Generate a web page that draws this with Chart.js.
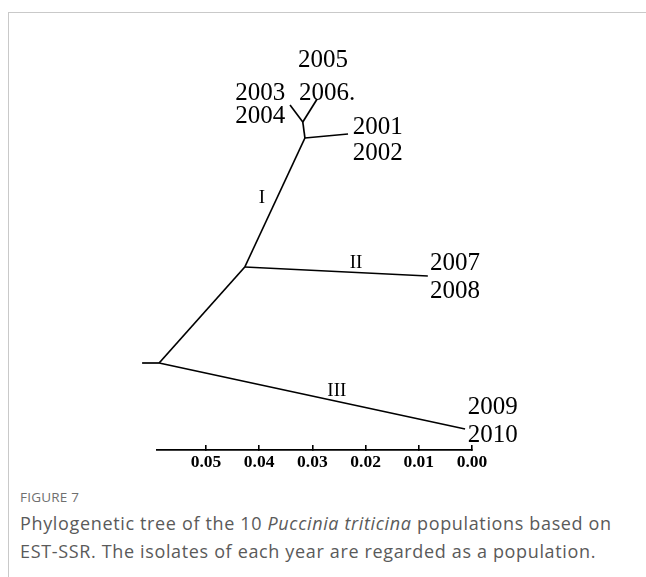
<!DOCTYPE html>
<html>
<head>
<meta charset="utf-8">
<script src="https://cdn.jsdelivr.net/npm/chart.js@4/dist/chart.umd.min.js"></script>
<style>
  html, body { margin: 0; padding: 0; background: #fff; }
  body { width: 646px; height: 577px; position: relative; overflow: hidden; }
  .frame { position: absolute; left: 8px; top: 12px; right: 0; bottom: 0;
           border-left: 1px solid #c9c9c9; border-top: 1px solid #c9c9c9; }
  .wrap { position: absolute; left: 0; top: 0; width: 646px; height: 480px; }
  .fig { position: absolute; left: 20px; top: 488px; font-family: "Open Sans", sans-serif;
         font-size: 13.5px; color: #6f6f6f; letter-spacing: 0.2px; }
  .cap { position: absolute; left: 20px; top: 509px; width: 608px; font-family: "Open Sans", sans-serif;
         font-size: 18px; line-height: 28px; letter-spacing: 0.65px; color: #5a5a5a; }
</style>
</head>
<body>
<div class="frame"></div>
<div class="wrap"><canvas id="c" width="646" height="480"></canvas></div>
<div class="fig">FIGURE 7</div>
<div class="cap">Phylogenetic tree of the 10 <i>Puccinia triticina</i> populations based on EST-SSR. The isolates of each year are regarded as a population.</div>
<script>
// Tree nodes: genetic distance (measured on the scale bar) and vertical layout position
const nodeNames = ['stub', 'root', 'splitI_II', 'splitI', 'split0306', 'tip0708', 'tip0910', 'tip0102', 'tip0304', 'tip0506'];
const nodeDist  = [0.0620, 0.0588, 0.0427, 0.0314, 0.0318, 0.0083, 0.0013, 0.0233, 0.0342, 0.0291];
const nodeY     = [0.87,   0.87,   1.83,   3.12,   3.28,   1.74,   0.21,   3.16,   3.45,   3.51];

// Branches as pairs of node indices
const branchFrom = [0, 1, 1, 2, 2, 3, 3, 4, 4];
const branchTo   = [1, 2, 6, 3, 5, 7, 4, 8, 9];

// Population labels (years) placed by distance and baseline position
const yearText = ['2005', '2003', '2006.', '2004', '2001', '2002', '2007', '2008', '2009', '2010'];
const yearDist = [0.0327, 0.0445, 0.0325, 0.0445, 0.0224, 0.0224, 0.0079, 0.0079, 0.0008, 0.0008];
const yearY    = [3.83,   3.50,   3.50,   3.27,   3.16,   2.90,   1.80,   1.52,   0.36,   0.08];

// Cluster labels
const clusterText = ['I', 'II', 'III'];
const clusterDist = [0.0395, 0.0218, 0.0254];
const clusterY    = [2.47,   1.82,   0.54];

// Scale bar ticks
const scaleMax = 0.0592;
const scaleStep = 0.01;

const datasets = branchFrom.map((f, i) => ({
  label: nodeNames[f] + '-' + nodeNames[branchTo[i]],
  data: [
    { x: nodeDist[f], y: nodeY[f] },
    { x: nodeDist[branchTo[i]], y: nodeY[branchTo[i]] }
  ],
  showLine: true,
  borderColor: '#000',
  borderWidth: 1.7,
  pointRadius: 0,
  pointHoverRadius: 0,
  clip: false
}));

const treeLabels = {
  id: 'treeLabels',
  afterDatasetsDraw(chart) {
    const { ctx, scales: { x, y } } = chart;
    ctx.save();
    ctx.fillStyle = '#000';
    ctx.textBaseline = 'alphabetic';
    ctx.textAlign = 'left';
    ctx.font = '25px "Liberation Serif", "Times New Roman", serif';
    yearText.forEach((t, i) => {
      ctx.fillText(t, x.getPixelForValue(yearDist[i]), y.getPixelForValue(yearY[i]));
    });
    ctx.textAlign = 'center';
    ctx.font = '19px "Liberation Serif", "Times New Roman", serif';
    clusterText.forEach((t, i) => {
      ctx.fillText(t, x.getPixelForValue(clusterDist[i]), y.getPixelForValue(clusterY[i]));
    });
    ctx.restore();
  }
};

new Chart(document.getElementById('c'), {
  type: 'scatter',
  data: { datasets },
  options: {
    responsive: false,
    animation: false,
    events: [],
    layout: { padding: { left: 157, right: 174, top: 50, bottom: 0 } },
    plugins: { legend: { display: false }, tooltip: { enabled: false } },
    scales: {
      x: {
        type: 'linear',
        position: 'bottom',
        reverse: true,
        min: 0,
        max: scaleMax,
        afterFit(scale) { scale.height = 30; },
        border: { display: true, color: '#000', width: 1.7 },
        grid: { display: true, drawOnChartArea: false, drawTicks: true, tickLength: -5, color: '#000', lineWidth: 1.6 },
        ticks: {
          stepSize: scaleStep,
          includeBounds: false,
          padding: 7,
          color: '#000',
          font: { family: '"Liberation Serif", "Times New Roman", serif', size: 17.5, weight: 'bold' },
          callback: v => Number(v).toFixed(2)
        }
      },
      y: { type: 'linear', display: false, min: 0, max: 4 }
    }
  },
  plugins: [treeLabels]
});
</script>
</body>
</html>
